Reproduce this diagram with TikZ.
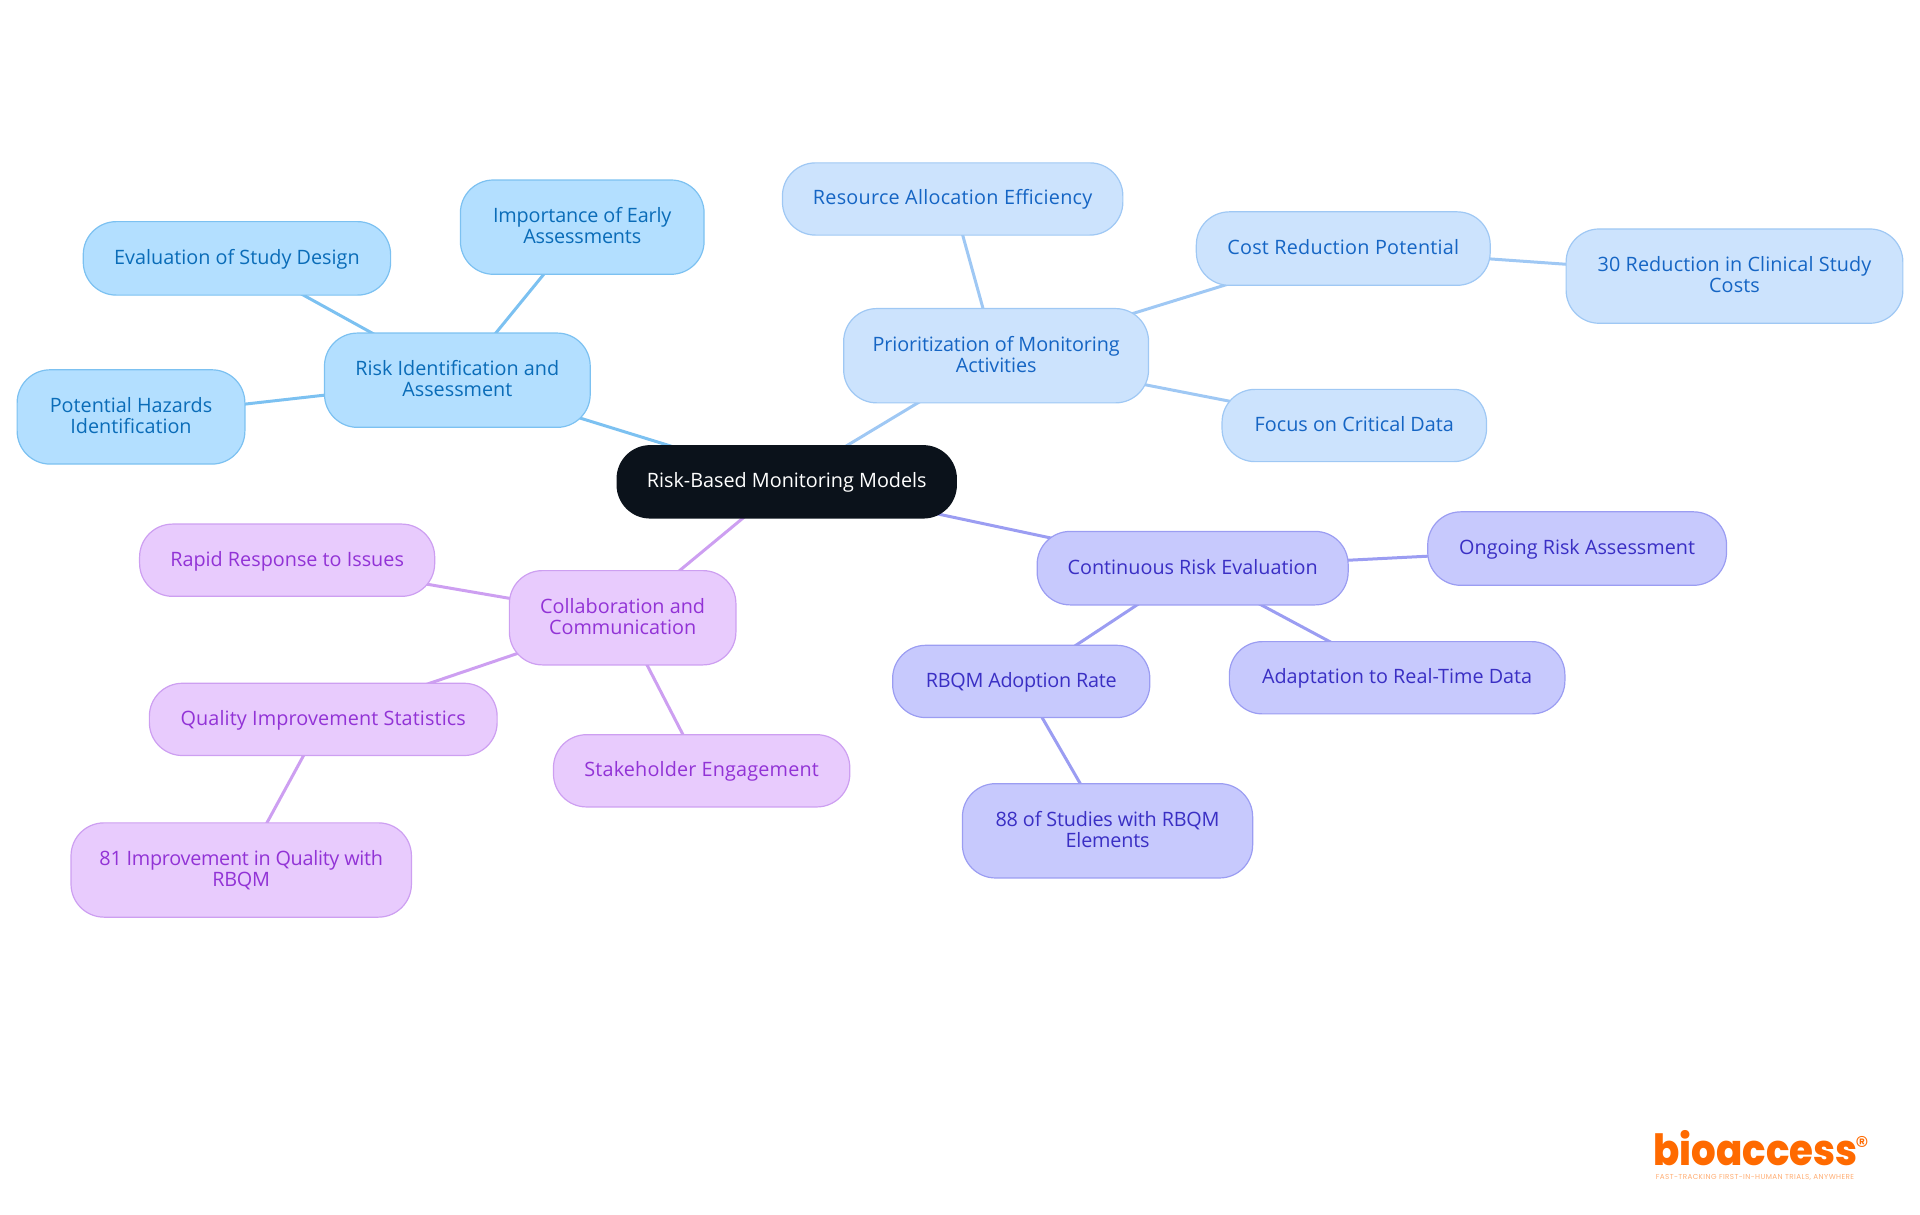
\documentclass[tikz,border=0pt]{standalone}
\usepackage{fontspec}
\setmainfont{Open Sans}
\newfontfamily\logofont{Poppins}
\newfontfamily\logoheavy{Poppins ExtraBold}
\usetikzlibrary{backgrounds,calc}
\definecolor{rootc}{HTML}{0B121B}
\definecolor{afill}{HTML}{B3DFFF}\definecolor{aline}{HTML}{7CC1F1}\definecolor{atext}{HTML}{0A6CB8}
\definecolor{bfill}{HTML}{CCE3FD}\definecolor{bline}{HTML}{9FC8F4}\definecolor{btext}{HTML}{1565C4}
\definecolor{cfill}{HTML}{C7C9FD}\definecolor{cline}{HTML}{9B9DF2}\definecolor{ctext}{HTML}{3A2FC4}
\definecolor{dfill}{HTML}{E8CBFD}\definecolor{dline}{HTML}{CD9FF1}\definecolor{dtext}{HTML}{9233D6}
\definecolor{logoc}{HTML}{FF6A00}
\tikzset{
  mapbox/.style={rounded corners=33pt,inner sep=0pt,line width=1.2pt,align=center,
    font=\fontsize{19.8}{21}\selectfont},
  rootbox/.style={mapbox,fill=rootc,draw=rootc,text=white},
  abox/.style={mapbox,fill=afill,draw=aline,text=atext},
  bbox/.style={mapbox,fill=bfill,draw=bline,text=btext},
  cbox/.style={mapbox,fill=cfill,draw=cline,text=ctext},
  dbox/.style={mapbox,fill=dfill,draw=dline,text=dtext},
  oneline/.style={text height=17pt,text depth=5pt},
  twoline/.style={execute at end node={\rule[-3.5pt]{0pt}{3.5pt}}},
  ls/.style={execute at begin node={\addfontfeature{LetterSpace=#1}}},
  aedge/.style={aline,line width=3pt},
  bedge/.style={bline,line width=3pt},
  cedge/.style={cline,line width=3pt},
  dedge/.style={dline,line width=3pt},
}
% name, style, x0, y0, x1, y1 (px in the 1568-wide view), text
\newcommand{\mapnode}[7]{%
  \pgfmathsetlengthmacro{\nw}{(#5-#3)*1.22449pt}%
  \pgfmathsetlengthmacro{\nh}{(#6-#4)*1.22449pt}%
  \pgfmathsetlengthmacro{\nx}{(#3+#5)/2*1.22449pt}%
  \pgfmathsetlengthmacro{\ny}{-(#4+#6)/2*1.22449pt}%
  \node[#2,minimum width=\nw,minimum height=\nh] (#1) at (\nx,\ny) {#7};%
}
\begin{document}
\begin{tikzpicture}
\useasboundingbox (0pt,0pt) rectangle (1920pt,-1215pt);
\mapnode{root}{rootbox,oneline}{504}{364}{781}{423}{Risk-Based Monitoring Models}
\mapnode{risk}{abox,twoline}{265}{272}{482}{349}{Risk Identification and\\Assessment}
\mapnode{evalu}{abox,oneline}{68}{181}{319}{241}{Evaluation of Study Design}
\mapnode{early}{abox,twoline,ls=-0.8}{376}{147}{575}{224}{Importance of Early\\Assessments}
\mapnode{hazards}{abox,twoline}{14}{302}{200}{379}{Potential Hazards\\Identification}
\mapnode{prior}{bbox,twoline,ls=-0.45}{689}{252}{938}{329}{Prioritization of Monitoring\\Activities}
\mapnode{resource}{bbox,oneline,ls=1.3}{639}{133}{917}{192}{Resource Allocation Efficiency}
\mapnode{cost}{bbox,oneline,ls=1.3}{977}{173}{1217}{233}{Cost Reduction Potential}
\mapnode{thirty}{bbox,twoline,ls=0.6}{1279}{187}{1554}{264}{30 Reduction in Clinical Study\\Costs}
\mapnode{focus}{bbox,oneline}{998}{318}{1214}{377}{Focus on Critical Data}
\mapnode{cont}{cbox,oneline}{847}{434}{1101}{494}{Continuous Risk Evaluation}
\mapnode{ongoing}{cbox,oneline}{1166}{418}{1410}{478}{Ongoing Risk Assessment}
\mapnode{adapt}{cbox,oneline}{1004}{524}{1278}{583}{Adaptation to Real-Time Data}
\mapnode{rate}{cbox,oneline,ls=-1.4}{729}{527}{939}{586}{RBQM Adoption Rate}
\mapnode{eightyeight}{cbox,twoline,ls=-1}{786}{640}{1023}{717}{88 of Studies with RBQM\\Elements}
\mapnode{collab}{dbox,twoline}{416}{466}{601}{543}{Collaboration and\\Communication}
\mapnode{rapid}{dbox,oneline}{114}{428}{355}{487}{Rapid Response to Issues}
\mapnode{quality}{dbox,oneline,ls=0.6}{122}{558}{406}{617}{Quality Improvement Statistics}
\mapnode{eightyone}{dbox,twoline,ls=-1.4}{58}{672}{336}{749}{81 Improvement in Quality with\\RBQM}
\mapnode{stake}{dbox,oneline,ls=0.8}{452}{600}{694}{659}{Stakeholder Engagement}
\begin{scope}[on background layer]
\draw[aedge] (root.center) -- (risk.center);
\draw[aedge] (risk.center) -- (evalu.center);
\draw[aedge] (risk.center) -- (early.center);
\draw[aedge] (risk.center) -- (hazards.center);
\draw[bedge] (root.center) -- (prior.center);
\draw[bedge] (prior.center) -- (resource.center);
\draw[bedge] (prior.center) -- (cost.center);
\draw[bedge] (cost.center) -- (thirty.center);
\draw[bedge] (prior.center) -- (focus.center);
\draw[cedge] (root.center) -- (cont.center);
\draw[cedge] (cont.center) -- (ongoing.center);
\draw[cedge] (cont.center) -- (adapt.center);
\draw[cedge] (cont.center) -- (rate.center);
\draw[cedge] (rate.center) -- (eightyeight.center);
\draw[dedge] (root.center) -- (collab.center);
\draw[dedge] (collab.center) -- (rapid.center);
\draw[dedge] (collab.center) -- (quality.center);
\draw[dedge] (quality.center) -- (eightyone.center);
\draw[dedge] (collab.center) -- (stake.center);
\end{scope}
\node[text=logoc,font=\logoheavy\fontsize{43}{43}\selectfont,inner sep=0pt] (logo) at (1755.5pt,-1148pt) {\scalebox{0.9}[1]{bioaccess}};
\node[text=logoc,font=\logofont\fontsize{27}{27}\selectfont,inner sep=0pt] (reg) at (1862pt,-1146pt) {®};
\node[text=logoc!55,font=\logofont\fontsize{7.2}{8}\selectfont,inner sep=0pt] (tag) at (1755pt,-1177pt) {\addfontfeature{LetterSpace=5.5}FAST-TRACKING FIRST-IN-HUMAN TRIALS, ANYWHERE};
\end{tikzpicture}
\end{document}
